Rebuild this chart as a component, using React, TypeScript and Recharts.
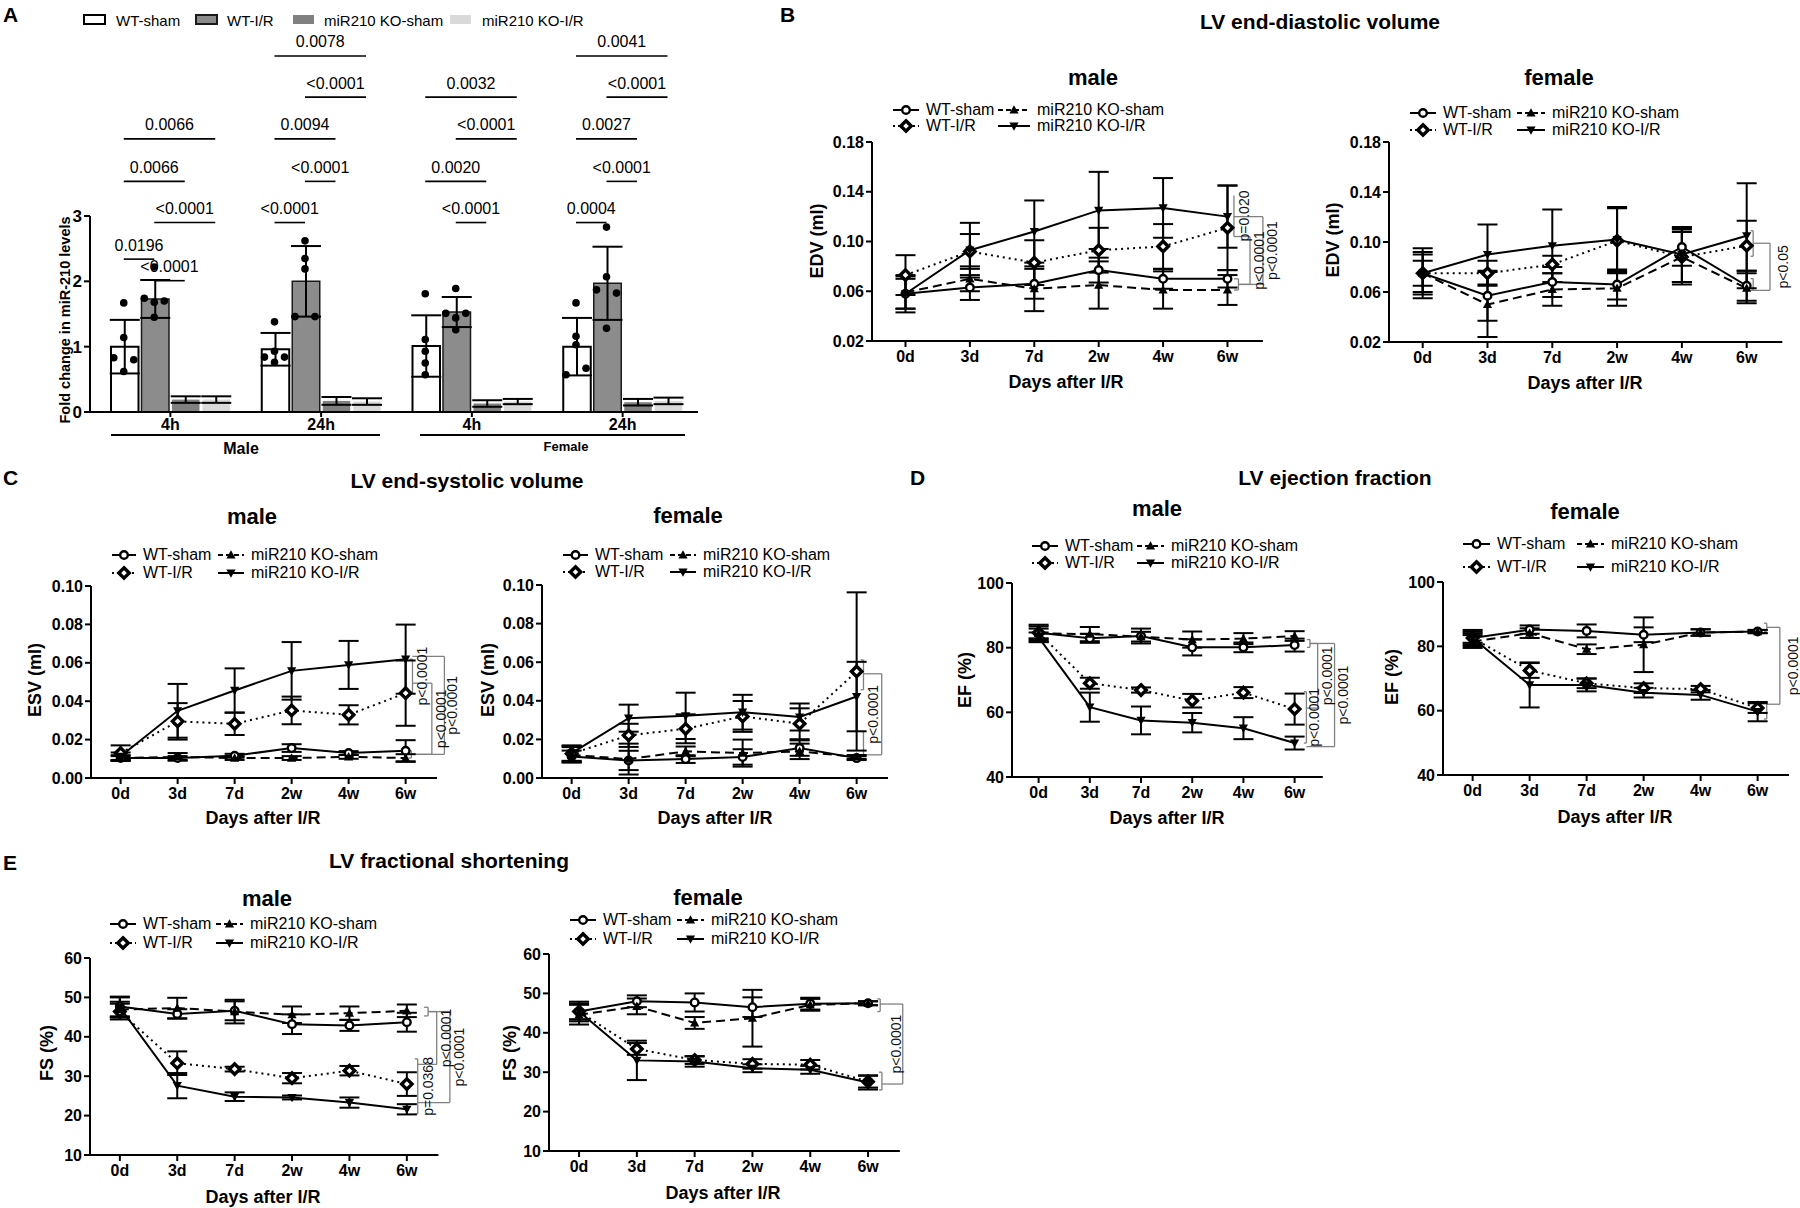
import React from 'react';
import { ComposedChart, LineChart, Line, Bar, Scatter, XAxis, YAxis, ErrorBar, ReferenceLine, ReferenceDot } from 'recharts';

const FONT = '"Liberation Sans", Arial, Helvetica, sans-serif';
const BRACKET = '#808080';
const X_MIN = -0.52;
const X_MAX = 5.55;

// ---------- Panel A data ----------
const GROUPS = ['4h', '24h', '4h', '24h'];
const mirWtSham = [1.0, 0.96, 1.01, 1.0];
const mirWtShamSd = [0.41, 0.25, 0.47, 0.44];
const mirWtIR = [1.73, 2.0, 1.53, 1.97];
const mirWtIRSd = [0.29, 0.54, 0.23, 0.56];
const mirKoSham = [0.19, 0.17, 0.13, 0.15];
const mirKoShamSd = [0.05, 0.06, 0.05, 0.05];
const mirKoIR = [0.19, 0.16, 0.16, 0.17];
const mirKoIRSd = [0.05, 0.05, 0.04, 0.05];
const mirWtShamPts = [[1.67, 1.14, 0.83, 0.80, 0.62], [1.38, 0.93, 0.84, 0.84, 0.76], [1.81, 1.11, 0.93, 0.75, 0.57], [1.67, 1.16, 1.03, 0.67, 0.57]];
const mirWtShamJit = [[0, 0, -1, 1, 0], [0, 0, -1, 1, 0], [0, 0, 0, 0, 0], [0, 0, 0, 1, -1]];
const mirWtIRPts = [[2.22, 1.74, 1.70, 1.68, 1.45], [2.62, 2.35, 2.19, 1.46, 1.46], [1.89, 1.51, 1.51, 1.44, 1.26], [2.83, 2.07, 1.87, 1.82, 1.28]];
const mirWtIRJit = [[0, -1, 1, 0, 0], [0, 0, 0, -1, 1], [0, -1, 1, 0, 0], [0, 0, -1, 1, 0]];
const mirBrackets = [
  { g: 0, b1: 0, b2: 1, y: 2.34, p: '0.0196' },
  { g: 0, b1: 1, b2: 2, y: 2.01, p: '<0.0001' },
  { g: 0, b1: 1, b2: 3, y: 2.9, p: '<0.0001' },
  { g: 0, b1: 0, b2: 2, y: 3.53, p: '0.0066' },
  { g: 0, b1: 0, b2: 3, y: 4.18, p: '0.0066' },
  { g: 1, b1: 0, b2: 1, y: 2.9, p: '<0.0001' },
  { g: 1, b1: 1, b2: 2, y: 3.53, p: '<0.0001' },
  { g: 1, b1: 0, b2: 2, y: 4.18, p: '0.0094' },
  { g: 1, b1: 1, b2: 3, y: 4.82, p: '<0.0001' },
  { g: 1, b1: 0, b2: 3, y: 5.45, p: '0.0078' },
  { g: 2, b1: 1, b2: 2, y: 2.9, p: '<0.0001' },
  { g: 2, b1: 0, b2: 2, y: 3.53, p: '0.0020' },
  { g: 2, b1: 1, b2: 3, y: 4.18, p: '<0.0001' },
  { g: 2, b1: 0, b2: 3, y: 4.82, p: '0.0032' },
  { g: 3, b1: 0, b2: 1, y: 2.9, p: '0.0004' },
  { g: 3, b1: 1, b2: 2, y: 3.53, p: '<0.0001' },
  { g: 3, b1: 0, b2: 2, y: 4.18, p: '0.0027' },
  { g: 3, b1: 1, b2: 3, y: 4.82, p: '<0.0001' },
  { g: 3, b1: 0, b2: 3, y: 5.45, p: '0.0041' },
];

// ---------- Time course data ----------
const DAYS = ['0d', '3d', '7d', '2w', '4w', '6w'];

// EDV male
const edvMWs = [0.058, 0.063, 0.066, 0.077, 0.070, 0.070];
const edvMWsSd = [0.015, 0.010, 0.012, 0.010, 0.008, 0.007];
const edvMWi = [0.073, 0.092, 0.083, 0.093, 0.096, 0.111];
const edvMWiSd = [0.016, 0.014, 0.018, 0.018, 0.018, 0.034];
const edvMKs = [0.059, 0.070, 0.062, 0.065, 0.061, 0.061];
const edvMKsSd = [0.013, 0.010, 0.018, 0.019, 0.015, 0.012];
const edvMKi = [0.058, 0.093, 0.108, 0.125, 0.127, 0.120];
const edvMKiSd = [0.012, 0.022, 0.025, 0.031, 0.024, 0.025];
// EDV female
const edvFWs = [0.075, 0.057, 0.068, 0.066, 0.096, 0.065];
const edvFWsSd = [0.020, 0.020, 0.012, 0.012, 0.015, 0.012];
const edvFWi = [0.075, 0.075, 0.082, 0.101, 0.088, 0.097];
const edvFWiSd = [0.015, 0.010, 0.007, 0.026, 0.020, 0.020];
const edvFKs = [0.075, 0.050, 0.062, 0.063, 0.088, 0.063];
const edvFKsSd = [0.017, 0.026, 0.013, 0.014, 0.022, 0.012];
const edvFKi = [0.075, 0.090, 0.097, 0.102, 0.090, 0.105];
const edvFKiSd = [0.010, 0.024, 0.029, 0.026, 0.022, 0.042];
// ESV male
const esvMWs = [0.0104, 0.0104, 0.0116, 0.0156, 0.013, 0.0142];
const esvMWsSd = [0.0015, 0.001, 0.001, 0.002, 0.001, 0.0055];
const esvMWi = [0.013, 0.0295, 0.0282, 0.0352, 0.0329, 0.0442];
const esvMWiSd = [0.004, 0.0095, 0.0058, 0.0072, 0.005, 0.017];
const esvMKs = [0.0104, 0.011, 0.0104, 0.0104, 0.011, 0.0104];
const esvMKsSd = [0.001, 0.002, 0.001, 0.001, 0.001, 0.002];
const esvMKi = [0.0113, 0.035, 0.0456, 0.0558, 0.0589, 0.0619];
const esvMKiSd = [0.002, 0.014, 0.0115, 0.015, 0.0125, 0.018];
// ESV female
const esvFWs = [0.0112, 0.0091, 0.0098, 0.0109, 0.0155, 0.0103];
const esvFWsSd = [0.003, 0.005, 0.002, 0.004, 0.004, 0.001];
const esvFWi = [0.0126, 0.0221, 0.0255, 0.0319, 0.0281, 0.0552];
const esvFWiSd = [0.004, 0.006, 0.0075, 0.008, 0.008, 0.041];
const esvFKs = [0.012, 0.0098, 0.0138, 0.0129, 0.0138, 0.0109];
const esvFKsSd = [0.004, 0.008, 0.0025, 0.007, 0.004, 0.001];
const esvFKi = [0.0129, 0.031, 0.0322, 0.0341, 0.0316, 0.0422];
const esvFKiSd = [0.004, 0.007, 0.012, 0.009, 0.007, 0.018];
// EF male
const efMWs = [84.6, 82.9, 83.6, 80.1, 80.1, 80.8];
const efMWsSd = [2.5, 1.4, 2.3, 2.5, 1.5, 2.0];
const efMWi = [84.6, 69.0, 66.9, 63.6, 66.1, 61.0];
const efMWiSd = [2.0, 1.7, 0.8, 2.1, 1.7, 4.8];
const efMKs = [84.4, 84.2, 83.4, 82.5, 82.8, 83.6];
const efMKsSd = [1.5, 2.2, 1.5, 2.5, 1.7, 1.5];
const efMKi = [83.2, 61.6, 57.5, 56.8, 55.1, 50.5];
const efMKiSd = [1.5, 4.5, 4.3, 3.0, 3.4, 2.0];
// EF female
const efFWs = [82.6, 85.2, 84.8, 83.6, 84.3, 84.6];
const efFWsSd = [2.5, 1.3, 2.0, 2.3, 1.0, 0.5];
const efFWi = [82.6, 72.5, 68.5, 67.0, 66.7, 60.8];
const efFWiSd = [2.0, 2.3, 1.5, 1.5, 1.0, 1.5];
const efFKs = [81.5, 84.1, 79.1, 80.5, 84.3, 84.6];
const efFKsSd = [2.0, 1.5, 1.5, 8.5, 1.0, 0.5];
const efFKi = [82.6, 68.0, 68.0, 65.6, 64.9, 59.7];
const efFKiSd = [1.5, 7.0, 2.0, 1.5, 1.5, 3.0];
// FS male
const fsMWs = [47.7, 45.8, 46.6, 43.2, 42.9, 43.7];
const fsMWsSd = [2.5, 1.2, 2.4, 2.5, 1.4, 2.4];
const fsMWi = [46.4, 33.3, 31.8, 29.5, 31.4, 28.0];
const fsMWiSd = [2.0, 3.0, 0.6, 1.3, 1.2, 3.0];
const fsMKs = [46.9, 47.3, 46.4, 45.6, 46.0, 46.6];
const fsMKsSd = [2.0, 2.6, 3.0, 2.1, 1.7, 1.6];
const fsMKi = [47.5, 27.6, 24.8, 24.6, 23.3, 21.6];
const fsMKiSd = [2.5, 3.2, 1.1, 0.5, 1.3, 1.3];
// FS female
const fsFWs = [45.4, 48.0, 47.7, 46.5, 47.4, 47.5];
const fsFWsSd = [2.5, 1.5, 2.3, 2.5, 1.5, 0.5];
const fsFWi = [45.4, 35.9, 33.1, 32.1, 31.9, 27.6];
const fsFWiSd = [2.0, 1.5, 1.0, 1.2, 1.2, 1.5];
const fsFKs = [44.6, 46.7, 42.5, 43.7, 47.1, 47.5];
const fsFKsSd = [2.5, 2.0, 1.5, 7.2, 1.5, 0.5];
const fsFKi = [45.4, 33.0, 32.7, 31.0, 30.6, 27.4];
const fsFKiSd = [2.0, 5.0, 1.3, 1.0, 1.0, 1.8];

type Bracket = { x: number; y1: number; y2: number; a1: number; a2: number; label?: string; ldx?: number };

const edvMBrackets: Bracket[] = [
  { x: 5.17, y1: 0.061, y2: 0.070, a1: 0.07, a2: 0.07 },
  { x: 5.1, y1: 0.104, y2: 0.137, a1: 0, a2: 0, label: 'p=0.020', ldx: 10 },
  { x: 5.35, y1: 0.0655, y2: 0.104, a1: 0.18, a2: 0.25, label: 'p<0.0001', ldx: 9 },
  { x: 5.55, y1: 0.0655, y2: 0.120, a1: 0.38, a2: 0.45, label: 'p<0.0001', ldx: 9 },
];
const edvFBrackets: Bracket[] = [
  { x: 5.1, y1: 0.0613, y2: 0.0707, a1: 0.04, a2: 0.04 },
  { x: 5.1, y1: 0.0886, y2: 0.109, a1: 0.04, a2: 0.04 },
  { x: 5.36, y1: 0.0613, y2: 0.099, a1: 0.26, a2: 0.26, label: 'p<0.05', ldx: 13 },
];
const esvMBrackets: Bracket[] = [
  { x: 5.1, y1: 0.0104, y2: 0.0142, a1: 0.05, a2: 0.05 },
  { x: 5.12, y1: 0.0442, y2: 0.0619, a1: 0.05, a2: 0.05, label: 'p<0.0001', ldx: 10 },
  { x: 5.46, y1: 0.0123, y2: 0.0494, a1: 0.36, a2: 0.34, label: 'p<0.0001', ldx: 9 },
  { x: 5.68, y1: 0.0123, y2: 0.0633, a1: 0.58, a2: 0.56, label: 'p<0.0001', ldx: 8 },
];
const esvFBrackets: Bracket[] = [
  { x: 5.12, y1: 0.012, y2: 0.0241, a1: 0.05, a2: 0.05 },
  { x: 5.12, y1: 0.0457, y2: 0.0612, a1: 0.05, a2: 0.05 },
  { x: 5.44, y1: 0.012, y2: 0.054, a1: 0.32, a2: 0.32, label: 'p<0.0001', ldx: -9 },
];
const efMBrackets: Bracket[] = [
  { x: 5.3, y1: 80.1, y2: 82.5, a1: 0.06, a2: 0.06 },
  { x: 5.23, y1: 50.5, y2: 66.4, a1: 0.05, a2: 0.05, label: 'p<0.0001', ldx: 8 },
  { x: 5.45, y1: 61.3, y2: 81.3, a1: 0.22, a2: 0.15, label: 'p<0.0001', ldx: 9 },
  { x: 5.78, y1: 49.4, y2: 81.3, a1: 0.55, a2: 0.48, label: 'p<0.0001', ldx: 8 },
];
const efFBrackets: Bracket[] = [
  { x: 5.16, y1: 84.6, y2: 87.2, a1: 0.05, a2: 0.05 },
  { x: 5.16, y1: 57.4, y2: 62.6, a1: 0.05, a2: 0.05 },
  { x: 5.39, y1: 62.0, y2: 85.9, a1: 0.23, a2: 0.23, label: 'p<0.0001', ldx: 13 },
];
const fsMBrackets: Bracket[] = [
  { x: 5.37, y1: 45.3, y2: 47.5, a1: 0.07, a2: 0.07 },
  { x: 5.19, y1: 20.4, y2: 34.4, a1: 0.05, a2: 0.05, label: 'p=0.0368', ldx: 10 },
  { x: 5.52, y1: 33.0, y2: 46.4, a1: 0.33, a2: 0.15, label: 'p<0.0001', ldx: 9 },
  { x: 5.75, y1: 23.3, y2: 46.4, a1: 0.56, a2: 0.38, label: 'p<0.0001', ldx: 9 },
];
const fsFBrackets: Bracket[] = [
  { x: 5.21, y1: 45.4, y2: 48.6, a1: 0.05, a2: 0.05 },
  { x: 5.24, y1: 25.5, y2: 30.0, a1: 0.05, a2: 0.05 },
  { x: 5.6, y1: 27.0, y2: 47.3, a1: 0.36, a2: 0.39, label: 'p<0.0001', ldx: -7 },
];

const table = (ws: number[], wsE: number[], wi: number[], wiE: number[], ks: number[], ksE: number[], ki: number[], kiE: number[]) =>
  DAYS.map((d, i) => ({ x: i, day: d, ws: ws[i], wsE: wsE[i], wi: wi[i], wiE: wiE[i], ks: ks[i], ksE: ksE[i], ki: ki[i], kiE: kiE[i] }));

const fmt2 = (v: number) => v.toFixed(2);
const fmt0 = (v: number) => String(v);

const PANELS = [
  { id: 'edvM', data: table(edvMWs, edvMWsSd, edvMWi, edvMWiSd, edvMKs, edvMKsSd, edvMKi, edvMKiSd), brackets: edvMBrackets,
    yDomain: [0.02, 0.18], yTicks: [0.02, 0.06, 0.10, 0.14, 0.18], fmt: fmt2, yTitle: 'EDV (ml)', sub: 'male',
    x0: 905, pitch: 64.4, top: 142, bottom: 341, legend: [893, 926, 998, 1037, 110, 126], subPos: [1093, 78], yt: [817, 241], xt: [1066, 382] },
  { id: 'edvF', data: table(edvFWs, edvFWsSd, edvFWi, edvFWiSd, edvFKs, edvFKsSd, edvFKi, edvFKiSd), brackets: edvFBrackets,
    yDomain: [0.02, 0.18], yTicks: [0.02, 0.06, 0.10, 0.14, 0.18], fmt: fmt2, yTitle: 'EDV (ml)', sub: 'female',
    x0: 1423, pitch: 64.8, top: 142, bottom: 342, legend: [1410, 1443, 1517, 1552, 113, 130], subPos: [1559, 78], yt: [1333, 240], xt: [1585, 383] },
  { id: 'esvM', data: table(esvMWs, esvMWsSd, esvMWi, esvMWiSd, esvMKs, esvMKsSd, esvMKi, esvMKiSd), brackets: esvMBrackets,
    yDomain: [0, 0.10], yTicks: [0, 0.02, 0.04, 0.06, 0.08, 0.10], fmt: fmt2, yTitle: 'ESV (ml)', sub: 'male',
    x0: 121, pitch: 57, top: 586, bottom: 778, legend: [112, 143, 218, 251, 555, 573], subPos: [252, 517], yt: [35, 680], xt: [263, 818] },
  { id: 'esvF', data: table(esvFWs, esvFWsSd, esvFWi, esvFWiSd, esvFKs, esvFKsSd, esvFKi, esvFKiSd), brackets: esvFBrackets,
    yDomain: [0, 0.10], yTicks: [0, 0.02, 0.04, 0.06, 0.08, 0.10], fmt: fmt2, yTitle: 'ESV (ml)', sub: 'female',
    x0: 572, pitch: 57, top: 585, bottom: 778, legend: [563, 595, 670, 703, 555, 572], subPos: [688, 516], yt: [488, 680], xt: [715, 818] },
  { id: 'efM', data: table(efMWs, efMWsSd, efMWi, efMWiSd, efMKs, efMKsSd, efMKi, efMKiSd), brackets: efMBrackets,
    yDomain: [40, 100], yTicks: [40, 60, 80, 100], fmt: fmt0, yTitle: 'EF (%)', sub: 'male',
    x0: 1039, pitch: 51.2, top: 583, bottom: 777, legend: [1032, 1065, 1137, 1171, 546, 563], subPos: [1157, 509], yt: [965, 680], xt: [1167, 818] },
  { id: 'efF', data: table(efFWs, efFWsSd, efFWi, efFWiSd, efFKs, efFKsSd, efFKi, efFKiSd), brackets: efFBrackets,
    yDomain: [40, 100], yTicks: [40, 60, 80, 100], fmt: fmt0, yTitle: 'EF (%)', sub: 'female',
    x0: 1473, pitch: 57, top: 582, bottom: 775, legend: [1463, 1497, 1577, 1611, 544, 567], subPos: [1585, 512], yt: [1392, 677], xt: [1615, 817] },
  { id: 'fsM', data: table(fsMWs, fsMWsSd, fsMWi, fsMWiSd, fsMKs, fsMKsSd, fsMKi, fsMKiSd), brackets: fsMBrackets,
    yDomain: [10, 60], yTicks: [10, 20, 30, 40, 50, 60], fmt: fmt0, yTitle: 'FS (%)', sub: 'male',
    x0: 120, pitch: 57.4, top: 958, bottom: 1155, legend: [110, 143, 216, 250, 924, 943], subPos: [267, 899], yt: [47, 1053], xt: [263, 1197] },
  { id: 'fsF', data: table(fsFWs, fsFWsSd, fsFWi, fsFWiSd, fsFKs, fsFKsSd, fsFKi, fsFKiSd), brackets: fsFBrackets,
    yDomain: [10, 60], yTicks: [10, 20, 30, 40, 50, 60], fmt: fmt0, yTitle: 'FS (%)', sub: 'female',
    x0: 579, pitch: 57.8, top: 954, bottom: 1151, legend: [570, 603, 677, 711, 920, 939], subPos: [708, 898], yt: [510, 1053], xt: [723, 1193] },
];

const SERIES = [
  { key: 'ws', name: 'WT-sham', dash: undefined as string | undefined, legDash: undefined as string | undefined, marker: 'circle' },
  { key: 'wi', name: 'WT-I/R', dash: '2 4', legDash: '2 3', marker: 'diamond' },
  { key: 'ks', name: 'miR210 KO-sham', dash: '9 5', legDash: '5 3', marker: 'up' },
  { key: 'ki', name: 'miR210 KO-I/R', dash: undefined, legDash: undefined, marker: 'down' },
];

function Txt({ x, y, size, bold, anchor = 'middle', rotate, children }: any) {
  const tx = anchor === 'middle' ? '-50%' : anchor === 'end' ? '-100%' : '0';
  return (
    <div style={{ position: 'absolute', left: x, top: y, fontFamily: FONT, fontSize: size, fontWeight: bold ? 700 : 400,
      lineHeight: 1, whiteSpace: 'nowrap', color: '#000', transform: `translate(${tx},-50%)${rotate ? ' rotate(-90deg)' : ''}` }}>
      {children}
    </div>
  );
}

function Marker({ kind, cx, cy }: any) {
  if (cx == null || cy == null) return <g />;
  if (kind === 'circle') return <circle cx={cx} cy={cy} r={3.8} fill="#fff" stroke="#000" strokeWidth={2.4} />;
  if (kind === 'diamond') return <path d={`M${cx},${cy - 5.2}L${cx + 5.2},${cy}L${cx},${cy + 5.2}L${cx - 5.2},${cy}Z`} fill="#fff" stroke="#000" strokeWidth={3.4} />;
  if (kind === 'up') return <path d={`M${cx},${cy - 4.8}L${cx + 4.6},${cy + 3.6}L${cx - 4.6},${cy + 3.6}Z`} fill="#000" />;
  return <path d={`M${cx},${cy + 4.8}L${cx + 4.6},${cy - 3.6}L${cx - 4.6},${cy - 3.6}Z`} fill="#000" />;
}

function LineLegend({ pos }: any) {
  const [ix1, tx1, ix2, tx2, y1, y2] = pos;
  const items: any[] = [[SERIES[0], ix1, tx1, y1], [SERIES[2], ix2, tx2, y1], [SERIES[1], ix1, tx1, y2], [SERIES[3], ix2, tx2, y2]];
  return (
    <>
      {items.map(([s, ix, tx, y]) => {
        const w = tx - ix - 7;
        return (
          <React.Fragment key={s.key}>
            <svg style={{ position: 'absolute', left: ix, top: y - 8 }} width={w} height={16}>
              <line x1={0} x2={w} y1={8} y2={8} stroke="#000" strokeWidth={2} strokeDasharray={s.legDash} />
              <Marker kind={s.marker} cx={w / 2} cy={8} />
            </svg>
            <Txt x={tx} y={y} size={16} anchor="start">{s.name}</Txt>
          </React.Fragment>
        );
      })}
    </>
  );
}

const axisStyle = { stroke: '#000', strokeWidth: 2 };
const tickFont = (size: number) => ({ fill: '#000', fontSize: size, fontWeight: 700, fontFamily: FONT });

function bracketElements(brackets: Bracket[], xAxisId: any) {
  const out: any[] = [];
  brackets.forEach((b, i) => {
    out.push(<ReferenceLine key={`bv${i}`} xAxisId={xAxisId} segment={[{ x: b.x, y: b.y1 }, { x: b.x, y: b.y2 }]} stroke={BRACKET} strokeWidth={1.3} ifOverflow="visible" />);
    if (b.a1 > 0) out.push(<ReferenceLine key={`ba${i}`} xAxisId={xAxisId} segment={[{ x: b.x - b.a1, y: b.y1 }, { x: b.x, y: b.y1 }]} stroke={BRACKET} strokeWidth={1.3} ifOverflow="visible" />);
    if (b.a2 > 0) out.push(<ReferenceLine key={`bb${i}`} xAxisId={xAxisId} segment={[{ x: b.x - b.a2, y: b.y2 }, { x: b.x, y: b.y2 }]} stroke={BRACKET} strokeWidth={1.3} ifOverflow="visible" />);
    if (b.label) {
      const dx = b.ldx || 9;
      out.push(
        <ReferenceDot key={`bl${i}`} xAxisId={xAxisId} x={b.x} y={(b.y1 + b.y2) / 2} r={0} ifOverflow="visible"
          shape={(p: any) => (
            <text x={p.cx + dx} y={p.cy} transform={`rotate(-90 ${p.cx + dx} ${p.cy})`} textAnchor="middle" dominantBaseline="central"
              fontSize={14} fontFamily={FONT} fill="#111">{b.label}</text>
          )} />
      );
    }
  });
  return out;
}

function LinePanel({ c }: any) {
  const L = 70, R = 90, TOP = 10, XH = 40;
  const plotLeft = c.x0 + X_MIN * c.pitch;
  const plotW = (X_MAX - X_MIN) * c.pitch;
  const plotH = c.bottom - c.top;
  const W = L + plotW + R;
  const H = TOP + plotH + XH;
  return (
    <>
      <div style={{ position: 'absolute', left: plotLeft - L, top: c.top - TOP }}>
        <LineChart width={W} height={H} data={c.data} margin={{ top: TOP, right: R, bottom: 0, left: 0 }}>
          <XAxis dataKey="x" type="number" domain={[X_MIN, X_MAX]} ticks={[0, 1, 2, 3, 4, 5]} allowDataOverflow interval={0}
            tickFormatter={(v: number) => DAYS[v]} height={XH} axisLine={axisStyle} tickLine={axisStyle} tickSize={6} tickMargin={4}
            tick={tickFont(16)} />
          <YAxis type="number" domain={c.yDomain} ticks={c.yTicks} allowDataOverflow interval={0} tickFormatter={c.fmt} width={L}
            axisLine={axisStyle} tickLine={axisStyle} tickSize={6} tickMargin={2} tick={tickFont(16)} />
          {bracketElements(c.brackets, 0)}
          {SERIES.map((s) => (
            <Line key={s.key} dataKey={s.key} type="linear" stroke="#000" strokeWidth={2} strokeDasharray={s.dash}
              isAnimationActive={false} activeDot={false}
              dot={(p: any) => <Marker key={`${c.id}-${s.key}-${p.index}`} kind={s.marker} cx={p.cx} cy={p.cy} />}>
              <ErrorBar dataKey={s.key + 'E'} width={10} strokeWidth={2} stroke="#000" direction="y" />
            </Line>
          ))}
        </LineChart>
      </div>
      <Txt x={c.subPos[0]} y={c.subPos[1]} size={22} bold>{c.sub}</Txt>
      <Txt x={c.yt[0]} y={c.yt[1]} size={18} bold rotate>{c.yTitle}</Txt>
      <Txt x={c.xt[0]} y={c.xt[1]} size={18} bold>Days after I/R</Txt>
      <LineLegend pos={c.legend} />
    </>
  );
}

// ---------- Panel A layout ----------
const A_LEFT = 90, A_RIGHT = 698, A_PAD = 5, A_TOP = 216, A_BOTTOM = 412, A_CHART_TOP = 24;
const BAR_W = 27.5, BAR_GAP = 3, JIT_PX = 10;

function PanelA() {
  const band = (A_RIGHT - A_LEFT - A_PAD) / GROUPS.length;
  const sum = 4 * BAR_W + 3 * BAR_GAP;
  const off = ((band - sum) / 2) >> 0;
  const barX = (g: number, j: number) => g + (off + BAR_W / 2 + j * (BAR_W + BAR_GAP)) / band;
  const jit = JIT_PX / band;
  const data = GROUPS.map((g, i) => ({
    g, ws: mirWtSham[i], wsE: mirWtShamSd[i], wi: mirWtIR[i], wiE: mirWtIRSd[i],
    ks: mirKoSham[i], ksE: mirKoShamSd[i], ki: mirKoIR[i], kiE: mirKoIRSd[i],
  }));
  const pts: any[] = [];
  GROUPS.forEach((_, g) => {
    mirWtShamPts[g].forEach((v, k) => pts.push({ x: barX(g, 0) + mirWtShamJit[g][k] * jit, y: v }));
    mirWtIRPts[g].forEach((v, k) => pts.push({ x: barX(g, 1) + mirWtIRJit[g][k] * jit, y: v }));
  });
  const topM = A_TOP - A_CHART_TOP;
  const XH = 30;
  const W = A_RIGHT + 10;
  const H = topM + (A_BOTTOM - A_TOP) + XH;
  const errProps = { width: 15, strokeWidth: 2, stroke: '#000', direction: 'y' as const };
  return (
    <div style={{ position: 'absolute', left: 0, top: A_CHART_TOP }}>
      <ComposedChart width={W} height={H} data={data} margin={{ top: topM, right: 10, bottom: 0, left: 0 }} barGap={BAR_GAP}>
        <XAxis dataKey="g" padding={{ left: A_PAD, right: 0 }} height={XH} axisLine={axisStyle} tickLine={axisStyle} tickSize={5}
          tickMargin={2} tick={tickFont(16)} interval={0} />
        <XAxis xAxisId="n" dataKey="x" type="number" domain={[0, 4]} padding={{ left: A_PAD, right: 0 }} hide allowDataOverflow />
        <YAxis domain={[0, 3]} ticks={[0, 1, 2, 3]} allowDataOverflow width={A_LEFT} axisLine={axisStyle} tickLine={axisStyle}
          tickSize={6} tickMargin={2} tick={tickFont(17)} />
        <Bar dataKey="ws" fill="#ffffff" stroke="#000" strokeWidth={2} barSize={BAR_W} isAnimationActive={false}>
          <ErrorBar dataKey="wsE" {...errProps} />
        </Bar>
        <Bar dataKey="wi" fill="#8c8c8c" stroke="#1a1a1a" strokeWidth={1.5} barSize={BAR_W} isAnimationActive={false}>
          <ErrorBar dataKey="wiE" {...errProps} />
        </Bar>
        <Bar dataKey="ks" fill="#808080" barSize={BAR_W} isAnimationActive={false}>
          <ErrorBar dataKey="ksE" {...errProps} />
        </Bar>
        <Bar dataKey="ki" fill="#d9d9d9" barSize={BAR_W} isAnimationActive={false}>
          <ErrorBar dataKey="kiE" {...errProps} />
        </Bar>
        <Scatter xAxisId="n" data={pts} dataKey="y" fill="#000" isAnimationActive={false}
          shape={(p: any) => <circle cx={p.cx} cy={p.cy} r={3.8} fill="#000" />} />
        {mirBrackets.map((b, i) => (
          <ReferenceLine key={`ab${i}`} xAxisId="n" segment={[{ x: barX(b.g, b.b1), y: b.y }, { x: barX(b.g, b.b2), y: b.y }]}
            stroke="#000" strokeWidth={1.6} ifOverflow="visible" />
        ))}
        {mirBrackets.map((b, i) => (
          <ReferenceDot key={`al${i}`} xAxisId="n" x={(barX(b.g, b.b1) + barX(b.g, b.b2)) / 2} y={b.y} r={0} ifOverflow="visible"
            shape={(p: any) => (
              <text x={p.cx} y={p.cy - 14} textAnchor="middle" dominantBaseline="central" fontSize={16} fontFamily={FONT} fill="#000">{b.p}</text>
            )} />
        ))}
      </ComposedChart>
    </div>
  );
}

function ALegend() {
  const items = [
    { name: 'WT-sham', ix: 83, tx: 116, fill: '#fff', stroke: '#000' },
    { name: 'WT-I/R', ix: 195, tx: 227, fill: '#8c8c8c', stroke: '#1a1a1a' },
    { name: 'miR210 KO-sham', ix: 292, tx: 324, fill: '#808080', stroke: 'none' },
    { name: 'miR210 KO-I/R', ix: 449, tx: 482, fill: '#d9d9d9', stroke: 'none' },
  ];
  return (
    <>
      {items.map((it) => (
        <React.Fragment key={it.name}>
          <svg style={{ position: 'absolute', left: it.ix, top: 14 }} width={23} height={11}>
            <rect x={1} y={1} width={21} height={9} fill={it.fill} stroke={it.stroke} strokeWidth={2} />
          </svg>
          <Txt x={it.tx} y={19.5} size={15} anchor="start">{it.name}</Txt>
        </React.Fragment>
      ))}
    </>
  );
}

export default function App() {
  return (
    <div style={{ position: 'absolute', left: 0, top: 0, width: 1800, height: 1208, background: '#fff', overflow: 'hidden', fontFamily: FONT }}>
      <Txt x={3} y={14} size={21} bold anchor="start">A</Txt>
      <Txt x={780} y={14} size={21} bold anchor="start">B</Txt>
      <Txt x={3} y={477} size={21} bold anchor="start">C</Txt>
      <Txt x={910} y={477} size={21} bold anchor="start">D</Txt>
      <Txt x={3} y={862} size={21} bold anchor="start">E</Txt>

      <ALegend />
      <PanelA />
      <Txt x={65} y={320} size={14.5} bold rotate>Fold change in miR-210 levels</Txt>
      <div style={{ position: 'absolute', left: 111, top: 434, width: 269, height: 2, background: '#000' }} />
      <div style={{ position: 'absolute', left: 420, top: 434, width: 265, height: 2, background: '#000' }} />
      <Txt x={241} y={449} size={16} bold>Male</Txt>
      <Txt x={566} y={446} size={13} bold>Female</Txt>

      <Txt x={1320} y={21} size={21} bold>LV end-diastolic volume</Txt>
      <Txt x={467} y={480} size={21} bold>LV end-systolic volume</Txt>
      <Txt x={1335} y={477} size={21} bold>LV ejection fraction</Txt>
      <Txt x={449} y={860} size={21} bold>LV fractional shortening</Txt>

      {PANELS.map((c) => <LinePanel key={c.id} c={c} />)}
    </div>
  );
}
